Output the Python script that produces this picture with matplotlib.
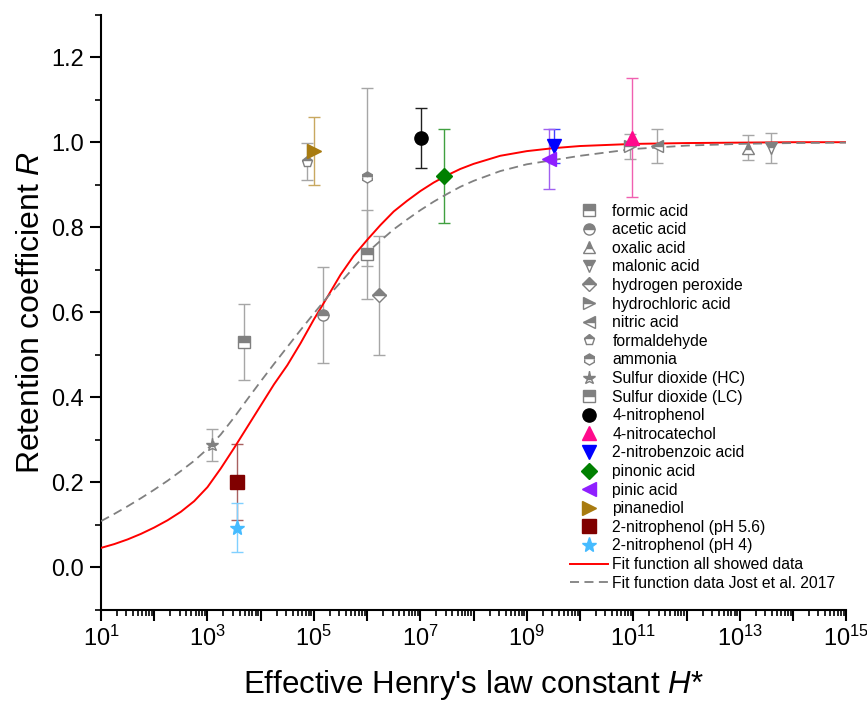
import numpy as np
import matplotlib
matplotlib.use("Agg")
import matplotlib.pyplot as plt
from matplotlib.ticker import LogLocator, FuncFormatter, MultipleLocator, NullFormatter

plt.rcParams['font.family'] = ['Liberation Sans', 'DejaVu Sans']
plt.rcParams['mathtext.fontset'] = 'custom'
plt.rcParams['mathtext.rm'] = 'Liberation Sans'
plt.rcParams['mathtext.it'] = 'Liberation Sans:italic'

# measured retention coefficients
compounds = ["formic acid", "acetic acid", "oxalic acid", "malonic acid",
             "hydrogen peroxide", "hydrochloric acid", "nitric acid",
             "formaldehyde", "ammonia", "Sulfur dioxide (HC)",
             "Sulfur dioxide (LC)", "4-nitrophenol", "4-nitrocatechol",
             "2-nitrobenzoic acid", "pinonic acid", "pinic acid", "pinanediol",
             "2-nitrophenol (pH 5.6)", "2-nitrophenol (pH 4)"]
henry = [1.0e6, 1.5e5, 1.4e13, 3.9e13, 1.7e6, 8.5e10, 2.8e11, 7.4e4, 1.0e6,
         1.2e3, 4.9e3, 1.05e7, 9.4e10, 3.2e9, 2.75e7, 2.6e9, 1.0e5, 3.6e3, 3.6e3]
retention = [0.736, 0.593, 0.987, 0.987, 0.64, 0.99, 0.99, 0.954, 0.918,
             0.287, 0.53, 1.01, 1.01, 0.99, 0.92, 0.96, 0.98, 0.20, 0.093]
retention_err = [0.104, 0.113, 0.03, 0.035, 0.14, 0.03, 0.04, 0.044, 0.21,
                 0.037, 0.089, 0.07, 0.14, 0.04, 0.11, 0.07, 0.08, 0.09, 0.058]

# fit curves (log10 H*, R)
fit_exp = [1.0, 1.25, 1.5, 1.75, 2.0, 2.25, 2.5, 2.75, 3.0, 3.25, 3.5, 3.75,
           4.0, 4.25, 4.5, 4.75, 5.0, 5.25, 5.5, 5.75, 6.0, 6.25, 6.5, 6.75,
           7.0, 7.25, 7.5, 7.75, 8.0, 8.5, 9.0, 9.5, 10, 11, 12, 13, 14, 15]
fit_all = [0.045, 0.054, 0.065, 0.078, 0.093, 0.110, 0.130, 0.155, 0.188,
           0.232, 0.280, 0.330, 0.380, 0.430, 0.475, 0.527, 0.583, 0.635,
           0.688, 0.733, 0.770, 0.805, 0.837, 0.862, 0.885, 0.905, 0.922,
           0.937, 0.949, 0.968, 0.979, 0.986, 0.991, 0.996, 0.998, 0.999,
           1.0, 1.0]
fit_jost = [0.108, 0.125, 0.143, 0.162, 0.182, 0.203, 0.226, 0.250, 0.278,
            0.312, 0.352, 0.395, 0.437, 0.478, 0.518, 0.558, 0.597, 0.635,
            0.670, 0.705, 0.740, 0.768, 0.795, 0.818, 0.840, 0.860, 0.878,
            0.895, 0.909, 0.932, 0.948, 0.958, 0.968, 0.984, 0.992, 0.996,
            0.998, 0.999]

# styles
markers = ['s', 'o', '^', 'v', 'D', '>', '<', 'p', 'h', '*', 's',
           'o', '^', 'v', 'D', '<', '>', 's', '*']
gray = '#808080'
colors = [gray] * 11 + ['black', '#FF0A8C', '#0000FF', '#008000', '#8F1FFF',
                        '#A87B10', '#800000', '#45BBFF']
ecolors = ['#A6A6A6'] * 11 + ['#202020', '#F060B0', '#4040FF', '#40A040',
                              '#A060F0', '#C8A860', '#A86060', '#80D0FF']

fig = plt.figure(figsize=(8.67, 7.03), dpi=100)
ax = fig.add_axes([0.1165, 0.133, 0.8595, 0.846])

for i, name in enumerate(compounds):
    ax.errorbar([henry[i]], [retention[i]], yerr=[retention_err[i]], fmt='none',
                ecolor=ecolors[i], elinewidth=1.0, capsize=4, capthick=1.0, zorder=2)

ax.plot([10.0 ** e for e in fit_exp], fit_all, color='red', lw=1.4, zorder=3)
ax.plot([10.0 ** e for e in fit_exp], fit_jost, color=gray, lw=1.3,
        ls=(0, (5, 3)), zorder=3)

handles = []
for i, name in enumerate(compounds):
    ms = 8 if i < 11 else 9.5
    if markers[i] == 'D':
        ms -= 1.2
    if markers[i] == '*':
        ms += 1.5
    if i < 11:
        kw = dict(fillstyle='top', markerfacecolor=gray, markerfacecoloralt='white',
                  markeredgecolor=gray, markeredgewidth=1.0)
    else:
        kw = dict(markerfacecolor=colors[i], markeredgecolor=colors[i],
                  markeredgewidth=1.0)
    h, = ax.plot([henry[i]], [retention[i]], ls='none', marker=markers[i],
                 markersize=ms, label=name, zorder=4, **kw)
    handles.append(h)

l1, = ax.plot([], [], color='red', lw=1.4, label='Fit function all showed data')
l2, = ax.plot([], [], color=gray, lw=1.3, ls=(0, (5, 3)),
              label='Fit function data Jost et al. 2017')
handles += [l1, l2]

ax.set_xscale('log')
ax.set_xlim(1e1, 1e15)
ax.set_ylim(-0.1, 1.3)

ax.xaxis.set_major_locator(LogLocator(base=10, numticks=30))
ax.xaxis.set_minor_locator(LogLocator(base=10, subs=np.arange(2, 10), numticks=30))
ax.xaxis.set_minor_formatter(NullFormatter())


def fmt_x(v, pos):
    e = int(round(np.log10(v)))
    if e % 2 == 1:
        return r'$\mathdefault{10^{%d}}$' % e
    return ''


ax.xaxis.set_major_formatter(FuncFormatter(fmt_x))
ax.yaxis.set_major_locator(MultipleLocator(0.2))
ax.yaxis.set_minor_locator(MultipleLocator(0.1))
ax.yaxis.set_major_formatter(FuncFormatter(lambda v, p: '%.1f' % v))

for s in ['top', 'right']:
    ax.spines[s].set_visible(False)
for s in ['left', 'bottom']:
    ax.spines[s].set_linewidth(1.5)

ax.tick_params(which='major', direction='out', length=8, width=1.5,
               labelsize=17, pad=4)
ax.tick_params(which='minor', direction='out', length=4, width=1.2)

ax.set_xlabel("Effective Henry's law constant $\\mathit{H}$*", fontsize=22.5,
              labelpad=12)
ax.set_ylabel("Retention coefficient $\\mathit{R}$", fontsize=23, labelpad=4)

fig.legend(handles=handles, loc='upper left', bbox_to_anchor=(0.6574, 0.7105),
           frameon=False, fontsize=11.3, handlelength=2.4, handletextpad=0.3,
           labelspacing=0.23, borderpad=0, borderaxespad=0, numpoints=1)

fig.savefig('out.png', dpi=100)
